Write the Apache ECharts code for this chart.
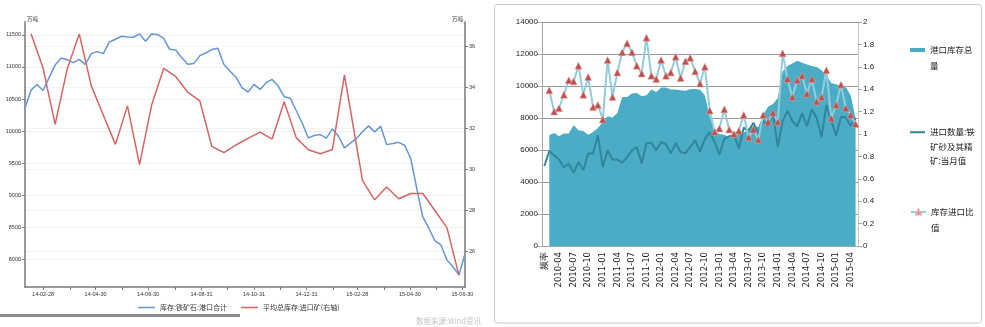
<!DOCTYPE html>
<html><head><meta charset="utf-8">
<script src="https://cdn.jsdelivr.net/npm/echarts@6/dist/echarts.min.js"></script>
<style>html,body{margin:0;padding:0;background:#fff}#c{width:985px;height:327px}</style>
</head><body><div id="c"></div>
<script>
// ---------- Left chart: weekly port stock (left axis) and biweekly average stock (right axis)
const stockStart = [2014, 2, 7]; // first weekly observation (Friday)
const portStock = [10363,10638,10727,10633,10832,11029,11138,11113,11066,11118,
  11040,11207,11238,11207,11389,11431,11478,11467,11462,11514,
  11400,11514,11504,11446,11274,11263,11145,11040,11052,11176,
  11217,11270,11290,11037,10935,10840,10676,10607,10727,10649,
  10754,10805,10701,10536,10513,10321,10122,9894,9930,9945,
  9891,10034,9919,9737,9811,9886,9989,10081,9988,10074,
  9789,9805,9825,9778,9573,9104,8663,8486,8292,8225,
  7991,7886,7759,8089];
const avgDates = ['2014-02-14','2014-02-28','2014-03-14','2014-03-28','2014-04-11','2014-04-25','2014-05-09','2014-05-23',
  '2014-06-06','2014-06-20','2014-07-04','2014-07-18','2014-08-01','2014-08-15','2014-08-29','2014-09-12','2014-09-26',
  '2014-10-10','2014-10-24','2014-11-07','2014-11-21','2014-12-05','2014-12-19','2015-01-02','2015-01-16','2015-01-30',
  '2015-02-13','2015-03-06','2015-03-20','2015-04-03','2015-04-17','2015-05-01','2015-05-15','2015-05-29','2015-06-12','2015-06-26'];
const avgStock = [36.62,34.95,32.2,34.9,36.62,34.08,32.64,31.22,33.1,30.23,33.13,34.93,34.54,33.77,33.35,31.12,30.82,
  31.19,31.51,31.82,31.48,33.3,31.55,30.96,30.76,30.97,34.61,29.45,28.51,29.14,28.56,28.82,28.82,27.99,27.15,24.82];
const monthEnds = ['2014-02-28','2014-03-31','2014-04-30','2014-05-31','2014-06-30','2014-07-31','2014-08-31','2014-09-30',
  '2014-10-31','2014-11-30','2014-12-31','2015-01-31','2015-02-28','2015-03-31','2015-04-30','2015-05-31','2015-06-30'];
const labelDates = ['2014-02-28','2014-04-30','2014-06-30','2014-08-31','2014-10-31','2014-12-31','2015-02-28','2015-04-30','2015-06-30'];
const leftTicks = [8000,8500,9000,9500,10000,10500,11000,11500];
const rightTicks = [26,28,30,32,34,36];

// ---------- Right chart: monthly
const firstLabel = '频率';
const stockTotal = [null,6920,7060,6860,7030,7030,7540,7230,7190,6960,7130,7380,7750,8110,8030,8310,9310,9310,9530,9560,
  9360,9420,9780,9630,9900,9900,9780,9780,9730,9700,9800,9820,9760,9400,8100,7200,7000,6950,6820,6900,
  7000,7100,7350,7480,7440,8200,8700,8880,9250,10900,11250,11400,11580,11450,11350,11250,11180,10980,10680,10180,
  10110,10000,9920,9400,8000];
const importQty = [5000,5940,5670,5400,4900,5150,4560,5250,4730,5780,5780,6920,4940,5980,5400,5400,5210,5560,5980,6190,
  5150,6440,6440,5980,6500,6360,5780,6440,5875,5800,6200,6600,5900,6700,7100,6500,5700,6700,6850,6950,
  6100,7400,7200,7700,7000,7800,7500,8300,6200,7800,8450,7800,7480,8300,7480,8550,8000,6800,8800,7850,
  6880,8060,8050,7500,8000];
const ratio = [null,1.39,1.20,1.23,1.35,1.48,1.47,1.61,1.35,1.51,1.24,1.26,1.13,1.66,1.33,1.55,1.73,1.81,1.73,1.61,
  1.54,1.86,1.52,1.49,1.66,1.52,1.55,1.69,1.50,1.65,1.68,1.56,1.45,1.60,1.21,1.02,1.05,1.22,1.04,1.00,
  1.03,1.17,0.97,1.04,0.95,1.17,1.11,1.19,1.11,1.72,1.49,1.33,1.48,1.52,1.36,1.49,1.29,1.33,1.57,1.14,
  1.26,1.44,1.23,1.17,1.09];
const months = [firstLabel];
for (let k = 1; k < importQty.length; k++) {
  const y = 2010 + Math.floor(k / 12), m = k % 12 + 1;
  months.push(y + '-' + (m < 10 ? '0' + m : m));
}

// ---------- helpers
const ts = s => { const p = s.split('-').map(Number); return new Date(p[0], p[1] - 1, p[2]).getTime(); };
const pad = n => (n < 10 ? '0' : '') + n;
const fmtDate = v => { const d = new Date(v); return pad(d.getFullYear() % 100) + '-' + pad(d.getMonth() + 1) + '-' + pad(d.getDate()); };
const plain = v => String(+v.toFixed(6));
const stockData = portStock.map((v, i) => [new Date(stockStart[0], stockStart[1] - 1, stockStart[2] + 7 * i).getTime(), v]);
const avgData = avgStock.map((v, i) => [ts(avgDates[i]), v]);

const small = {fontFamily: 'Liberation Sans', fontSize: 5.5, color: '#333'};
const cjk = 'Noto Sans CJK SC';

const chart = echarts.init(document.getElementById('c'));
chart.setOption({
  animation: false,
  textStyle: {fontFamily: cjk},
  title: {text: '数据来源:Wind资讯', left: 411, top: 312,
    textStyle: {fontSize: 7.5, fontWeight: 'normal', color: '#c4c4c4', fontFamily: cjk}},
  grid: [
    {left: 25, right: 520, top: 22, bottom: 40},
    {left: 542, right: 127, top: 22, bottom: 81}
  ],
  xAxis: [
    {type: 'value', gridIndex: 0, min: ts('2014-02-07'), max: ts('2015-07-03'),
      axisLine: {lineStyle: {color: '#7a7a7a', width: 1.5}},
      axisTick: {show: true, customValues: monthEnds.map(ts), length: 3, lineStyle: {color: '#7a7a7a'}},
      axisLabel: Object.assign({customValues: labelDates.map(ts), formatter: fmtDate, margin: 4, hideOverlap: false}, small),
      splitLine: {show: false}},
    {type: 'category', gridIndex: 1, data: months, boundaryGap: true,
      axisLine: {lineStyle: {color: '#a6a6a6'}},
      axisTick: {interval: 0, length: 3, lineStyle: {color: '#a6a6a6'}},
      axisLabel: {interval: 2, rotate: 90, fontSize: 8.5, fontFamily: 'DejaVu Sans', color: '#222', margin: 6}}
  ],
  yAxis: [
    {type: 'value', gridIndex: 0, position: 'left', min: 7570, max: 11700, splitNumber: 8,
      name: '万吨', nameLocation: 'end', nameGap: 0,
      nameTextStyle: {fontSize: 5.5, color: '#333', align: 'left', padding: [0, 0, 0, 2]},
      axisLine: {show: true, lineStyle: {color: '#9a9a9a', width: 2}},
      axisTick: {show: true, customValues: leftTicks, length: 3, lineStyle: {color: '#7a7a7a'}},
      axisLabel: Object.assign({customValues: leftTicks, margin: 4, formatter: plain}, small),
      splitLine: {show: true, lineStyle: {color: '#efefef'}}},
    {type: 'value', gridIndex: 0, position: 'right', min: 24.25, max: 37.2, splitNumber: 6,
      name: '万吨', nameLocation: 'end', nameGap: 0,
      nameTextStyle: {fontSize: 5.5, color: '#333', align: 'right', padding: [0, 2, 0, 0]},
      axisLine: {show: true, lineStyle: {color: '#9a9a9a', width: 2}},
      axisTick: {show: true, customValues: rightTicks, length: 3, lineStyle: {color: '#7a7a7a'}},
      axisLabel: Object.assign({customValues: rightTicks, margin: 4, formatter: plain}, small),
      splitLine: {show: true, lineStyle: {color: '#f3f3f3'}}},
    {type: 'value', gridIndex: 1, position: 'left', min: 0, max: 14000, interval: 2000,
      axisLine: {show: true, lineStyle: {color: '#a6a6a6'}},
      axisTick: {show: true, length: 5, lineStyle: {color: '#a6a6a6'}},
      axisLabel: {fontSize: 8, fontFamily: 'Liberation Sans', color: '#222', margin: 4, formatter: plain},
      splitLine: {show: true, lineStyle: {color: '#9a9a9a'}}},
    {type: 'value', gridIndex: 1, position: 'right', min: 0, max: 2, interval: 0.2,
      axisLine: {show: true, lineStyle: {color: '#c4c4c4'}},
      axisTick: {show: true, length: 4, lineStyle: {color: '#a6a6a6'}},
      axisLabel: {fontSize: 8, fontFamily: 'Liberation Sans', color: '#222', margin: 5, formatter: plain},
      splitLine: {show: false}}
  ],
  legend: [
    {data: [{name: '库存:铁矿石:港口合计', icon: 'rect'}, {name: '平均总库存:进口矿(右轴)', icon: 'rect'}],
      left: 138, top: 304, padding: 0,
      itemWidth: 17, itemHeight: 1.5, itemGap: 14, textStyle: {fontSize: 7, color: '#333', fontFamily: cjk}},
    {data: [{name: '港口库存总量', icon: 'rect'}], orient: 'vertical', left: 910, top: 26, padding: 0,
      itemWidth: 15, itemHeight: 4, formatter: () => '\n港口库存总\n量',
      textStyle: {fontSize: 8.5, lineHeight: 16, color: '#222', fontFamily: cjk}},
    {data: [{name: '进口数量:铁矿砂及其精矿:当月值', icon: 'rect'}], orient: 'vertical', left: 910, top: 96, padding: 0,
      itemWidth: 15, itemHeight: 2, formatter: () => '\n\n进口数量:铁\n矿砂及其精\n矿:当月值',
      textStyle: {fontSize: 8.5, lineHeight: 14.5, color: '#222', fontFamily: cjk}},
    {data: ['库存进口比值'], orient: 'vertical', left: 910, top: 188, padding: 0,
      itemWidth: 15, itemHeight: 6, formatter: () => '\n库存进口比\n值',
      textStyle: {fontSize: 8.5, lineHeight: 16, color: '#222', fontFamily: cjk}}
  ],
  graphic: [
    {type: 'rect', silent: true, z: -10, shape: {x: 494.5, y: 4.5, width: 487, height: 318.5, r: 3},
      style: {fill: 'none', stroke: '#c8c8c8', lineWidth: 1}},
    {type: 'rect', silent: true, z: -10, shape: {x: 0, y: 314, width: 240, height: 3},
      style: {fill: '#8c8c8c'}}
  ],
  series: [
    {name: '库存:铁矿石:港口合计', type: 'line', xAxisIndex: 0, yAxisIndex: 0, data: stockData,
      symbol: 'none', lineStyle: {color: '#6497d3', width: 1.5}, itemStyle: {color: '#6497d3'}},
    {name: '平均总库存:进口矿(右轴)', type: 'line', xAxisIndex: 0, yAxisIndex: 1, data: avgData,
      symbol: 'none', lineStyle: {color: '#d46565', width: 1.5}, itemStyle: {color: '#d46565'}},
    {name: '港口库存总量', type: 'line', xAxisIndex: 1, yAxisIndex: 2, data: stockTotal,
      symbol: 'none', lineStyle: {width: 0, color: '#4BACC6'}, itemStyle: {color: '#4BACC6'},
      areaStyle: {color: '#4BACC6', opacity: 1}},
    {name: '进口数量:铁矿砂及其精矿:当月值', type: 'line', xAxisIndex: 1, yAxisIndex: 2, data: importQty,
      symbol: 'none', lineStyle: {color: '#31859C', width: 2}, itemStyle: {color: '#31859C'}},
    {name: '库存进口比值', type: 'line', xAxisIndex: 1, yAxisIndex: 3, data: ratio,
      symbol: 'triangle', symbolSize: 7, showAllSymbol: true,
      lineStyle: {color: '#93CDDD', width: 2},
      itemStyle: {color: '#C0504D', borderColor: '#e9a9a7', borderWidth: 0.5}}
  ]
});
</script></body></html>
